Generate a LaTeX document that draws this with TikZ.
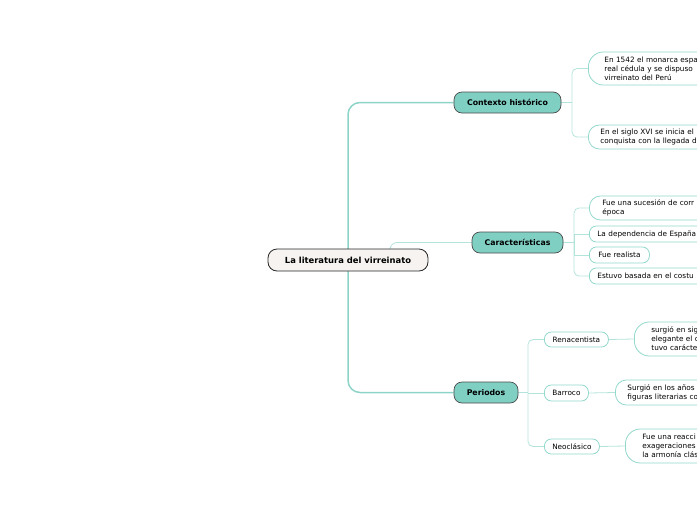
\documentclass[tikz,border=0pt]{standalone}
\usepackage{fontspec}
\setmainfont{DejaVu Sans}
\usetikzlibrary{backgrounds}
\definecolor{tealfill}{HTML}{7FCFC3}
\definecolor{mainborder}{HTML}{4A4A4A}
\definecolor{rootfill}{HTML}{F6F3F0}
\definecolor{leafborder}{HTML}{93D8CC}
\definecolor{conncol}{HTML}{B3E4DB}
\definecolor{trunkcol}{HTML}{8DD4C8}
\tikzset{
  rootbox/.style={draw=black!85, fill=rootfill, line width=0.8pt, rounded corners=9pt,
    minimum width=160pt, minimum height=22pt, inner sep=0pt,
    font=\fontsize{8.4}{10}\selectfont\bfseries},
  mainbox/.style={draw=mainborder, fill=tealfill, line width=0.7pt, rounded corners=8pt,
    minimum height=21pt, inner sep=0pt, font=\fontsize{7.8}{9}\selectfont\bfseries},
  leaf/.style={draw=leafborder, fill=white, line width=0.8pt, anchor=west,
    inner ysep=0pt, align=left, font=\fontsize{7.3}{9}\selectfont},
  longleaf/.style={leaf, text width=200pt},
  conn/.style={draw=conncol, line width=0.8pt},
  trunk/.style={draw=trunkcol, line width=1.5pt},
}
\begin{document}
\begin{tikzpicture}[x=1pt,y=-1pt]
\useasboundingbox (0,0) rectangle (697,520);
\clip (0,0) rectangle (697,520);

\node[rootbox] (root) at (348,260) {La literatura del virreinato};

\node[mainbox, minimum width=107pt] (ctx) at (507.5,102.5) {Contexto histórico};
\node[mainbox, minimum width=91pt] (car) at (517.5,242.5) {Características};
\node[mainbox, minimum width=64pt] (per) at (486,392.5) {Periodos};

% Contexto children
\node[longleaf, minimum height=33pt, inner xsep=16pt, rounded corners=15pt] (c1) at (588,68.5)
  {En 1542 el monarca espa\\real cédula y se dispuso\\virreinato del Perú};
\node[longleaf, minimum height=24pt, inner xsep=12pt, rounded corners=11pt] (c2) at (588,137)
  {En el siglo XVI se inicia el\\conquista con la llegada d};

% Caracteristicas children
\node[longleaf, minimum height=24pt, inner xsep=13pt, rounded corners=11pt] (k1) at (589,208)
  {Fue una sucesión de corr\\época};
\node[longleaf, minimum height=16pt, inner xsep=8pt, rounded corners=7pt] (k2) at (589,234)
  {La dependencia de España};
\node[leaf, minimum height=16pt, minimum width=60pt, inner xsep=0pt, rounded corners=7pt] (k3) at (589,255)
  {Fue realista};
\node[longleaf, minimum height=16pt, inner xsep=8pt, rounded corners=7pt] (k4) at (589,276)
  {Estuvo basada en el costu};

% Periodos children
\node[leaf, minimum height=15pt, minimum width=64pt, inner xsep=0pt, rounded corners=7pt] (p1) at (544,339.5)
  {Renacentista};
\node[leaf, minimum height=16pt, minimum width=44pt, inner xsep=0pt, rounded corners=7pt] (p2) at (544,393)
  {Barroco};
\node[leaf, minimum height=15pt, minimum width=55pt, inner xsep=0pt, rounded corners=7pt] (p3) at (544,446.5)
  {Neoclásico};

\node[longleaf, minimum height=34pt, inner xsep=17pt, rounded corners=15pt] (r1) at (634,339)
  {surgió en sig\\elegante el c\\tuvo carácte};
\node[longleaf, minimum height=25pt, inner xsep=12pt, rounded corners=11pt] (r2) at (615,392.5)
  {Surgió en los años\\figuras literarias co};
\node[longleaf, minimum height=34pt, inner xsep=17pt, rounded corners=15pt] (r3) at (625,446)
  {Fue una reacci\\exageraciones\\la armonía clás};

\coordinate (jc) at (572,102.5);
\coordinate (jk) at (574,242.5);
\coordinate (jp) at (528,392.5);
\coordinate (rc) at (390,260);

\begin{pgfonlayer}{background}
  \draw[trunk, rounded corners=12pt] (root.center) |- (ctx.west);
  \draw[trunk, rounded corners=12pt] (root.center) |- (per.west);
  \draw[conn, rounded corners=7pt] (rc) |- (car.west);

  \draw[conn] (ctx.east) -- (jc);
  \draw[conn, rounded corners=5pt] (jc) |- (c1.west);
  \draw[conn, rounded corners=5pt] (jc) |- (c2.west);

  \draw[conn] (car.east) -- (jk);
  \draw[conn, rounded corners=5pt] (jk) |- (k1.west);
  \draw[conn] (jk) |- (k2.west);
  \draw[conn] (jk) |- (k3.west);
  \draw[conn, rounded corners=5pt] (jk) |- (k4.west);

  \draw[conn] (per.east) -- (jp);
  \draw[conn, rounded corners=5pt] (jp) |- (p1.west);
  \draw[conn] (jp) |- (p2.west);
  \draw[conn, rounded corners=5pt] (jp) |- (p3.west);

  \draw[conn] (p1.east) -- (r1.west);
  \draw[conn] (p2.east) -- (r2.west);
  \draw[conn] (p3.east) -- (r3.west);
\end{pgfonlayer}
\end{tikzpicture}
\end{document}
